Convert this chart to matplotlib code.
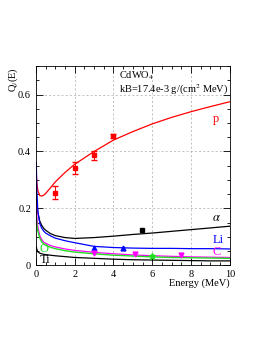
import matplotlib
matplotlib.use("Agg")
import matplotlib.pyplot as plt
from matplotlib.ticker import MultipleLocator
import numpy as np

plt.rcParams['font.family'] = ['Liberation Serif', 'DejaVu Serif']
plt.rcParams['mathtext.fontset'] = 'stix'

# curve samples (energy in MeV)
energy = [0.02, 0.05, 0.1, 0.2, 0.3, 0.4, 0.5, 0.75, 1, 1.5, 2, 3, 4, 5, 6, 7, 8, 9, 10]
q_p = [0.32, 0.29, 0.262, 0.245, 0.243, 0.246, 0.252, 0.272, 0.293, 0.326, 0.355,
       0.40, 0.44, 0.47, 0.497, 0.52, 0.54, 0.558, 0.575]
q_alpha = [0.26, 0.22, 0.185, 0.155, 0.14, 0.13, 0.123, 0.111, 0.104, 0.097, 0.094,
           0.097, 0.102, 0.108, 0.113, 0.119, 0.125, 0.131, 0.137]
q_li = [0.36, 0.26, 0.19, 0.146, 0.13, 0.12, 0.113, 0.103, 0.095, 0.086, 0.079,
        0.066, 0.062, 0.060, 0.059, 0.059, 0.058, 0.058, 0.057]
q_c = [0.21, 0.17, 0.135, 0.104, 0.09, 0.081, 0.077, 0.069, 0.064, 0.057, 0.052,
       0.045, 0.040, 0.036, 0.033, 0.031, 0.029, 0.028, 0.027]
q_o = [0.17, 0.14, 0.12, 0.095, 0.082, 0.075, 0.07, 0.063, 0.058, 0.051, 0.046,
       0.040, 0.035, 0.032, 0.029, 0.027, 0.026, 0.025, 0.024]
q_ti = [0.065, 0.055, 0.047, 0.042, 0.04, 0.038, 0.037, 0.035, 0.033, 0.030, 0.027,
        0.024, 0.021, 0.019, 0.018, 0.017, 0.016, 0.015, 0.015]

# measured points
p_e = [1, 2, 3, 4]
p_q = [0.255, 0.342, 0.386, 0.456]
p_err = [0.023, 0.02, 0.015, 0.007]
a_e, a_q = [5.45], [0.125]
li_e, li_q = [3.0, 4.5], [0.062, 0.060]
c_e, c_q = [3.0, 5.1, 7.5], [0.041, 0.038, 0.037]
o_e, o_q = [6.0], [0.031]

fig = plt.figure(figsize=(2.74, 3.54), dpi=100)
ax = fig.add_axes([0.131, 0.251, 0.708, 0.562])

ax.plot(energy, q_p, color='red', lw=0.9)
ax.plot(energy, q_alpha, color='black', lw=0.9)
ax.plot(energy, q_li, color='blue', lw=0.9)
ax.plot(energy, q_c, color='magenta', lw=0.9)
ax.plot(energy, q_o, color='#22dd22', lw=1.0)
ax.plot(energy, q_ti, color='black', lw=0.9)

ax.errorbar(p_e, p_q, yerr=p_err, fmt='s', color='red', ms=3, capsize=2, elinewidth=0.7)
ax.plot(a_e, a_q, 's', color='black', ms=3)
ax.plot(li_e, li_q, '^', color='blue', ms=3.5)
ax.plot(c_e, c_q, 'v', color='magenta', ms=3.5)
ax.plot(o_e, o_q, '*', color='#22dd22', ms=4.5)

tk = dict(fontsize=9)
ax.text(9.1, 0.505, 'p', color='red', **tk)
ax.text(9.1, 0.155, r'$\alpha$', color='black', **tk)
ax.text(9.1, 0.078, 'Li', color='blue', **tk)
ax.text(9.1, 0.035, 'C', color='magenta', **tk)
ax.text(0.2, 0.047, 'O', color='#22dd22', **tk)
ax.text(0.2, 0.008, 'Ti', color='black', **tk)
ax.text(4.3, 0.655, r'CdWO$_4$', fontsize=7.5)
ax.text(4.3, 0.608, r'kB=17.4e-3 g/(cm$^2$ MeV)', fontsize=7.5)

ax.set_xlim(0, 10)
ax.set_ylim(0, 0.7)
ax.xaxis.set_major_locator(MultipleLocator(2))
ax.xaxis.set_minor_locator(MultipleLocator(0.5))
ax.yaxis.set_major_locator(MultipleLocator(0.2))
ax.yaxis.set_minor_locator(MultipleLocator(0.05))
ax.set_yticks([0, 0.2, 0.4, 0.6], ['0', '0.2', '0.4', '0.6'])
ax.tick_params(which='both', direction='in', top=True, right=True, labelsize=7.5, width=0.6)
ax.tick_params(which='major', length=5)
ax.tick_params(which='minor', length=2.5)
ax.grid(True, which='major', ls=(0, (3, 3)), color='#aaaaaa', lw=0.5)
for s in ax.spines.values():
    s.set_linewidth(0.6)

fig.text(0.839, 0.2, 'Energy (MeV)', ha='right', va='center', fontsize=7.5)
fig.text(0.047, 0.81, r'Q$_i$(E)', rotation=90, ha='center', va='top', fontsize=7.5)

fig.savefig('out.png', dpi=100)
